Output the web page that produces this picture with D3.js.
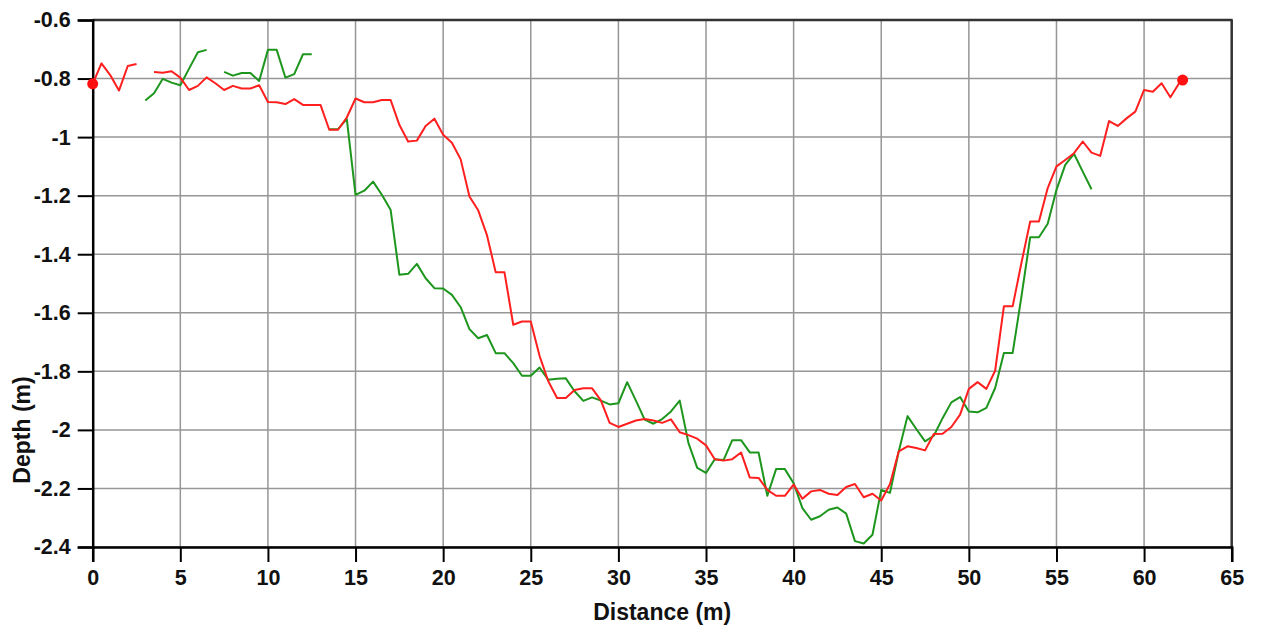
<!DOCTYPE html>
<html>
<head>
<meta charset="utf-8">
<script src="https://cdn.jsdelivr.net/npm/d3@7"></script>
<style>
html,body{margin:0;padding:0;background:#fff;}
svg text{font-family:"Liberation Sans",Arial,Helvetica,sans-serif;font-weight:bold;fill:#111;}
</style>
</head>
<body>
<svg id="chart" width="1263" height="630"></svg>
<script>
const distance = [0,0.5,1,1.5,2,2.5,3,3.5,4,4.5,5,5.5,6,6.5,7,7.5,8,8.5,9,9.5,10,10.5,11,11.5,12,12.5,13,13.5,14,14.5,15,15.5,16,16.5,17,17.5,18,18.5,19,19.5,20,20.5,21,21.5,22,22.5,23,23.5,24,24.5,25,25.5,26,26.5,27,27.5,28,28.5,29,29.5,30,30.5,31,31.5,32,32.5,33,33.5,34,34.5,35,35.5,36,36.5,37,37.5,38,38.5,39,39.5,40,40.5,41,41.5,42,42.5,43,43.5,44,44.5,45,45.5,46,46.5,47,47.5,48,48.5,49,49.5,50,50.5,51,51.5,52,52.5,53,53.5,54,54.5,55,55.5,56,56.5,57,57.5,58,58.5,59,59.5,60,60.5,61,61.5,62,62.2];

const redDepth = [-0.818,-0.748,-0.788,-0.841,-0.757,-0.750,null,-0.778,-0.780,-0.775,-0.797,-0.839,-0.825,-0.796,-0.816,-0.839,-0.825,-0.834,-0.834,-0.823,-0.880,-0.881,-0.887,-0.870,-0.890,-0.890,-0.890,-0.975,-0.975,-0.933,-0.868,-0.881,-0.881,-0.873,-0.873,-0.958,-1.015,-1.012,-0.962,-0.937,-0.992,-1.019,-1.076,-1.203,-1.250,-1.335,-1.462,-1.462,-1.641,-1.630,-1.630,-1.747,-1.834,-1.891,-1.891,-1.864,-1.858,-1.858,-1.899,-1.976,-1.990,-1.979,-1.968,-1.963,-1.968,-1.976,-1.964,-2.008,-2.018,-2.030,-2.053,-2.100,-2.105,-2.100,-2.077,-2.163,-2.164,-2.205,-2.225,-2.225,-2.187,-2.235,-2.210,-2.205,-2.218,-2.222,-2.195,-2.185,-2.230,-2.218,-2.241,-2.185,-2.073,-2.056,-2.062,-2.070,-2.014,-2.013,-1.990,-1.948,-1.860,-1.837,-1.860,-1.798,-1.578,-1.578,-1.430,-1.288,-1.288,-1.174,-1.100,-1.078,-1.055,-1.015,-1.053,-1.064,-0.945,-0.962,-0.936,-0.913,-0.839,-0.845,-0.816,-0.864,-0.816,-0.805];

const greenDepth = [null,null,null,null,null,null,-0.875,-0.850,-0.801,-0.814,-0.823,-0.766,-0.710,-0.702,null,-0.777,-0.790,-0.781,-0.781,-0.808,-0.702,-0.702,-0.797,-0.785,-0.717,-0.717,null,-0.973,-0.973,-0.938,-1.197,-1.183,-1.152,-1.197,-1.248,-1.470,-1.467,-1.433,-1.482,-1.516,-1.517,-1.539,-1.581,-1.656,-1.687,-1.676,-1.738,-1.738,-1.772,-1.815,-1.815,-1.787,-1.829,-1.825,-1.824,-1.868,-1.901,-1.889,-1.900,-1.913,-1.909,-1.837,-1.900,-1.965,-1.979,-1.963,-1.937,-1.900,-2.045,-2.130,-2.147,-2.100,-2.103,-2.035,-2.035,-2.077,-2.077,-2.225,-2.134,-2.134,-2.182,-2.267,-2.307,-2.295,-2.273,-2.265,-2.286,-2.380,-2.388,-2.358,-2.205,-2.215,-2.073,-1.953,-1.997,-2.039,-2.020,-1.960,-1.906,-1.888,-1.937,-1.940,-1.925,-1.857,-1.737,-1.737,-1.545,-1.342,-1.342,-1.296,-1.180,-1.095,-1.057,-1.118,-1.178,null,null,null,null,null,null,null,null,null,null,null,null];

const xTicks = [0,5,10,15,20,25,30,35,40,45,50,55,60,65];
const yTicks = [-0.6,-0.8,-1,-1.2,-1.4,-1.6,-1.8,-2,-2.2,-2.4];
const xTitle = "Distance (m)";
const yTitle = "Depth (m)";

const svg = d3.select("#chart");
const L = 92.7, R = 1231.7, T = 20, B = 547;

const x = d3.scaleLinear().domain([0,65]).range([L,R]);
const y = d3.scaleLinear().domain([-0.6,-2.4]).range([T,B]);

// grid
const grid = svg.append("g");
grid.selectAll("line.vx").data(xTicks.slice(1)).join("line")
  .attr("x1",d=>x(d)).attr("x2",d=>x(d)).attr("y1",T).attr("y2",B)
  .attr("stroke","#969696").attr("stroke-width",1.5);
grid.selectAll("line.hy").data(yTicks.slice(1)).join("line")
  .attr("x1",L).attr("x2",R).attr("y1",d=>y(d)).attr("y2",d=>y(d))
  .attr("stroke","#969696").attr("stroke-width",1.5);

// frame top/right
svg.append("line").attr("x1",L).attr("x2",R+1).attr("y1",T).attr("y2",T).attr("stroke","#333").attr("stroke-width",2.5);
svg.append("line").attr("x1",R).attr("x2",R).attr("y1",T).attr("y2",B).attr("stroke","#333").attr("stroke-width",2.5);

// axes
const xAxis = d3.axisBottom(x).tickValues(xTicks).tickSize(15).tickPadding(8).tickFormat(d3.format("d"));
const gx = svg.append("g").attr("transform",`translate(0,${B})`).call(xAxis);
gx.select(".domain").attr("stroke","#000").attr("stroke-width",2.5);
gx.selectAll(".tick line").attr("stroke","#000").attr("stroke-width",2);
gx.selectAll(".tick text").attr("font-size",21.5).style("font-weight","bold").attr("fill","#111");

const yAxis = d3.axisLeft(y).tickValues(yTicks).tickSize(15).tickPadding(7).tickFormat(d=>String(d));
const gy = svg.append("g").attr("transform",`translate(${L},0)`).call(yAxis);
gy.select(".domain").attr("stroke","#000").attr("stroke-width",2.5);
gy.selectAll(".tick line").attr("stroke","#000").attr("stroke-width",2);
gy.selectAll(".tick text").attr("font-size",21.5).style("font-weight","bold").attr("fill","#111");

// lines
const greenData = distance.map((d,i)=>({x:d,y:greenDepth[i]}));
const redData = distance.map((d,i)=>({x:d,y:redDepth[i]}));
const line = d3.line().defined(d=>d.y!=null).x(d=>x(d.x)).y(d=>y(d.y));

svg.append("path").datum(greenData).attr("d",line)
  .attr("fill","none").attr("stroke","#1e961e").attr("stroke-width",2).attr("stroke-linejoin","round");
svg.append("path").datum(redData).attr("d",line)
  .attr("fill","none").attr("stroke","#ff1f1f").attr("stroke-width",2).attr("stroke-linejoin","round");

// end markers
const ends = [redData[0], redData[redData.length-1]];
svg.selectAll("circle.end").data(ends).join("circle")
  .attr("cx",d=>x(d.x)).attr("cy",d=>y(d.y)).attr("r",5.5).attr("fill","#ff1010");

// titles
svg.append("text").attr("x",(L+R)/2).attr("y",620).attr("text-anchor","middle")
  .attr("font-size",23).text(xTitle);
svg.append("text").attr("transform","translate(30,430) rotate(-90)").attr("text-anchor","middle")
  .attr("font-size",23).text(yTitle);
</script>
</body>
</html>
